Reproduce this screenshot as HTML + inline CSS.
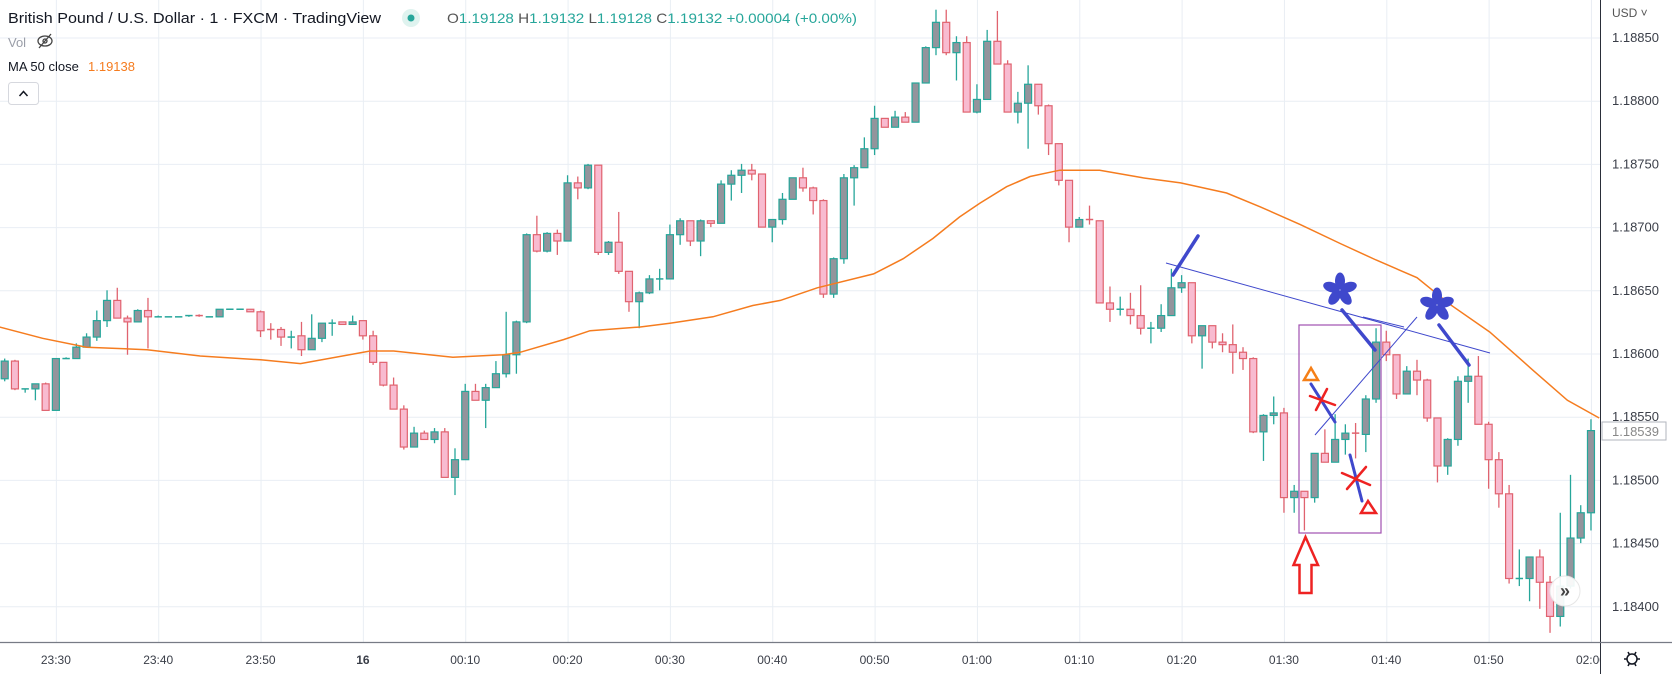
<!DOCTYPE html>
<html><head><meta charset="utf-8"><title>GBPUSD 1m chart</title>
<style>
html,body{margin:0;padding:0;background:#fff;width:1672px;height:674px;overflow:hidden;font-family:"Liberation Sans",sans-serif;}
svg{display:block}
</style></head>
<body>
<svg id="chart" width="1672" height="674" viewBox="0 0 1672 674" xmlns="http://www.w3.org/2000/svg">
  <rect x="0" y="0" width="1672" height="674" fill="#ffffff"/>
  <g id="grid"></g>
  <defs>
    <clipPath id="plotClip"><rect x="0" y="0" width="1600" height="642"/></clipPath>
    <clipPath id="timeClip"><rect x="0" y="642" width="1600" height="32"/></clipPath>
  </defs>
  <g clip-path="url(#plotClip)">
    <g id="candles"></g>
    <polyline id="maLine" fill="none" stroke="#f57c1f" stroke-width="1.5"/>
    <g id="annotations">
      <line x1="1166" y1="263" x2="1490" y2="353" stroke="#3f48cc" stroke-width="1"/>
      <line x1="1363" y1="317" x2="1404" y2="327" stroke="#3f48cc" stroke-width="1"/>
      <line x1="1315" y1="435" x2="1417" y2="317" stroke="#3f48cc" stroke-width="1"/>
      <line x1="1173" y1="275" x2="1198" y2="236" stroke="#3f48cc" stroke-width="3.5" stroke-linecap="round"/>
      <rect x="1299" y="325" width="82" height="208" fill="none" stroke="#a050b0" stroke-width="1.2"/>
      <g transform="translate(1340,290)" fill="#3f48cc">
        <ellipse cx="0" cy="-9" rx="5" ry="8.5"/>
        <ellipse cx="0" cy="-9" rx="5" ry="8.5" transform="rotate(72)"/>
        <ellipse cx="0" cy="-9" rx="5" ry="8.5" transform="rotate(144)"/>
        <ellipse cx="0" cy="-9" rx="5" ry="8.5" transform="rotate(216)"/>
        <ellipse cx="0" cy="-9" rx="5" ry="8.5" transform="rotate(288)"/>
      </g>
      <g transform="translate(1437,305)" fill="#3f48cc">
        <ellipse cx="0" cy="-9" rx="5" ry="8.5"/>
        <ellipse cx="0" cy="-9" rx="5" ry="8.5" transform="rotate(72)"/>
        <ellipse cx="0" cy="-9" rx="5" ry="8.5" transform="rotate(144)"/>
        <ellipse cx="0" cy="-9" rx="5" ry="8.5" transform="rotate(216)"/>
        <ellipse cx="0" cy="-9" rx="5" ry="8.5" transform="rotate(288)"/>
      </g>
      <line x1="1342" y1="310" x2="1375" y2="350" stroke="#3f48cc" stroke-width="3.5" stroke-linecap="round"/>
      <line x1="1439" y1="325" x2="1469" y2="365" stroke="#3f48cc" stroke-width="3.5" stroke-linecap="round"/>
      <polygon points="1311,368 1304,380 1318,380" fill="none" stroke="#f57f17" stroke-width="2.5"/>
      <line x1="1311" y1="384" x2="1335" y2="422" stroke="#3f48cc" stroke-width="3" stroke-linecap="round"/>
      <g stroke="#ee2222" stroke-width="2.5" stroke-linecap="round">
        <line x1="1310" y1="396" x2="1335" y2="405"/><line x1="1327" y1="389" x2="1316" y2="410"/>
      </g>
      <line x1="1350" y1="455" x2="1362" y2="501" stroke="#3f48cc" stroke-width="3" stroke-linecap="round"/>
      <g stroke="#ee2222" stroke-width="2.5" stroke-linecap="round">
        <line x1="1342" y1="473" x2="1370" y2="485"/><line x1="1366" y1="467" x2="1347" y2="489"/>
      </g>
      <polygon points="1368,501 1361,513 1376,513" fill="none" stroke="#ee2222" stroke-width="2.5"/>
      <polygon points="1305.5,537 1293.5,565 1299.5,565 1299.5,593 1311.5,593 1311.5,565 1318,565" fill="none" stroke="#ee2222" stroke-width="2.5" stroke-linejoin="miter"/>
    </g>
  </g>
  <g>
    <text x="8" y="23" font-size="15" fill="#131722" textLength="373" lengthAdjust="spacingAndGlyphs">British Pound / U.S. Dollar · 1 · FXCM · TradingView</text>
    <circle cx="411" cy="18" r="9" fill="#dff3ef"/>
    <circle cx="411" cy="18" r="3.5" fill="#26a69a"/>
    <text x="447" y="23" font-size="14" fill="#26a69a" textLength="410" lengthAdjust="spacingAndGlyphs"><tspan fill="#555">O</tspan>1.19128 <tspan fill="#555">H</tspan>1.19132 <tspan fill="#555">L</tspan>1.19128 <tspan fill="#555">C</tspan>1.19132 +0.00004 (+0.00%)</text>
    <text x="8" y="47" font-size="13" fill="#9a9ea8">Vol</text>
    <g transform="translate(45,41)" stroke="#444" stroke-width="1.3" fill="none">
      <ellipse cx="0" cy="0" rx="7" ry="5"/><circle cx="0" cy="0" r="2"/><line x1="-6" y1="7" x2="6" y2="-7"/>
    </g>
    <text x="8" y="71" font-size="13" fill="#131722">MA 50 close</text>
    <text x="88" y="71" font-size="13" fill="#f57c1f">1.19138</text>
    <rect x="8.5" y="82.5" width="30" height="22" rx="3" fill="#fff" stroke="#d6d8de"/>
    <path d="M19.5 96 L23.5 91.5 L27.5 96" fill="none" stroke="#131722" stroke-width="1.5"/>
  </g>
  <rect x="1600.5" y="0" width="72" height="674" fill="#fff"/>
  <rect x="0" y="642" width="1600" height="32" fill="#fff"/>
  <line x1="1600.5" y1="0" x2="1600.5" y2="674" stroke="#2a2e39" stroke-width="1"/>
  <line x1="0" y1="642.5" x2="1672" y2="642.5" stroke="#777b85" stroke-width="1.2"/>
  <g id="priceAxis"></g>
  <g id="timeAxis" clip-path="url(#timeClip)"></g>
  <text x="1612" y="17" font-size="12" fill="#555">USD ˅</text>
  <g transform="translate(1632,659)" fill="none" stroke="#131722" stroke-width="1.5">
    <circle cx="0" cy="0" r="5"/><line x1="-8" y1="0" x2="-5" y2="0"/><line x1="5" y1="0" x2="8" y2="0"/><line x1="-4" y1="-7" x2="-2.5" y2="-4.3"/><line x1="4" y1="-7" x2="2.5" y2="-4.3"/><line x1="-4" y1="7" x2="-2.5" y2="4.3"/><line x1="4" y1="7" x2="2.5" y2="4.3"/>
  </g>
  <g>
    <rect x="1602" y="422" width="64" height="18" fill="#fff" stroke="#b2b5be"/>
    <text x="1612" y="436" font-size="13" fill="#888">1.18539</text>
  </g>
  <g>
    <circle cx="1565" cy="591" r="15" fill="#ffffff" fill-opacity="0.92" stroke="#e6e6e6"/>
    <text x="1565" y="597" font-size="18" text-anchor="middle" fill="#444" font-weight="bold">»</text>
  </g>
</svg>
<script>
const priceTicks = [1.18850,1.18800,1.18750,1.18700,1.18650,1.18600,1.18550,1.18500,1.18450,1.18400];
const tickLabels = ["23:30","23:40","23:50","16","00:10","00:20","00:30","00:40","00:50","01:00","01:10","01:20","01:30","01:40","01:50","02:00"];
const tickIndex = [5,15,25,35,45,55,65,75,85,95,105,115,125,135,145,155];
const open = [1.18580,1.18594,1.18572,1.18572,1.18576,1.18555,1.18596,1.18596,1.18605,1.18613,1.18626,1.18642,1.18628,1.18625,1.18634,1.18629,1.18629,1.18629,1.18629,1.18630,1.18629,1.18629,1.18635,1.18635,1.18635,1.18633,1.18619,1.18619,1.18613,1.18614,1.18603,1.18612,1.18624,1.18625,1.18623,1.18626,1.18614,1.18593,1.18575,1.18556,1.18526,1.18537,1.18532,1.18538,1.18502,1.18516,1.18570,1.18563,1.18573,1.18584,1.18599,1.18625,1.18694,1.18681,1.18695,1.18689,1.18735,1.18731,1.18749,1.18680,1.18688,1.18665,1.18641,1.18648,1.18659,1.18659,1.18694,1.18705,1.18689,1.18705,1.18703,1.18734,1.18741,1.18745,1.18742,1.18700,1.18706,1.18722,1.18739,1.18731,1.18721,1.18647,1.18675,1.18739,1.18747,1.18762,1.18786,1.18779,1.18787,1.18783,1.18814,1.18842,1.18862,1.18838,1.18846,1.18791,1.18801,1.18847,1.18829,1.18791,1.18798,1.18813,1.18796,1.18766,1.18737,1.18700,1.18706,1.18705,1.18640,1.18635,1.18635,1.18630,1.18620,1.18620,1.18630,1.18652,1.18656,1.18614,1.18622,1.18609,1.18607,1.18601,1.18596,1.18538,1.18551,1.18553,1.18486,1.18491,1.18486,1.18521,1.18514,1.18532,1.18537,1.18536,1.18564,1.18609,1.18599,1.18568,1.18586,1.18579,1.18549,1.18511,1.18532,1.18578,1.18582,1.18544,1.18516,1.18489,1.18422,1.18422,1.18439,1.18419,1.18392,1.18416,1.18454,1.18474];
const high = [1.18596,1.18595,1.18572,1.18576,1.18577,1.18596,1.18597,1.18608,1.18616,1.18634,1.18650,1.18652,1.18630,1.18635,1.18644,1.18630,1.18629,1.18629,1.18630,1.18631,1.18629,1.18635,1.18635,1.18635,1.18635,1.18634,1.18624,1.18621,1.18618,1.18625,1.18631,1.18624,1.18627,1.18625,1.18630,1.18626,1.18618,1.18593,1.18581,1.18559,1.18542,1.18539,1.18541,1.18541,1.18525,1.18576,1.18576,1.18576,1.18594,1.18633,1.18626,1.18695,1.18709,1.18696,1.18698,1.18741,1.18740,1.18750,1.18749,1.18689,1.18712,1.18665,1.18649,1.18662,1.18667,1.18702,1.18707,1.18705,1.18706,1.18705,1.18737,1.18745,1.18750,1.18750,1.18742,1.18706,1.18727,1.18739,1.18747,1.18732,1.18722,1.18676,1.18742,1.18749,1.18771,1.18796,1.18786,1.18792,1.18791,1.18814,1.18843,1.18872,1.18872,1.18851,1.18851,1.18813,1.18856,1.18871,1.18832,1.18807,1.18828,1.18813,1.18797,1.18766,1.18737,1.18708,1.18717,1.18705,1.18653,1.18645,1.18648,1.18654,1.18625,1.18639,1.18667,1.18662,1.18656,1.18622,1.18622,1.18616,1.18623,1.18605,1.18597,1.18552,1.18566,1.18557,1.18496,1.18491,1.18521,1.18540,1.18552,1.18544,1.18545,1.18567,1.18620,1.18618,1.18599,1.18590,1.18595,1.18580,1.18549,1.18533,1.18582,1.18596,1.18598,1.18546,1.18522,1.18496,1.18445,1.18439,1.18445,1.18424,1.18474,1.18504,1.18480,1.18548];
const low = [1.18578,1.18571,1.18569,1.18563,1.18555,1.18555,1.18596,1.18596,1.18605,1.18610,1.18621,1.18628,1.18599,1.18625,1.18604,1.18629,1.18629,1.18629,1.18629,1.18629,1.18629,1.18629,1.18635,1.18635,1.18633,1.18613,1.18611,1.18606,1.18604,1.18598,1.18603,1.18609,1.18614,1.18623,1.18623,1.18611,1.18591,1.18574,1.18556,1.18524,1.18526,1.18532,1.18529,1.18502,1.18488,1.18516,1.18563,1.18541,1.18573,1.18581,1.18584,1.18624,1.18680,1.18680,1.18678,1.18689,1.18722,1.18730,1.18678,1.18678,1.18663,1.18633,1.18620,1.18647,1.18650,1.18659,1.18686,1.18685,1.18677,1.18700,1.18703,1.18721,1.18727,1.18737,1.18700,1.18688,1.18702,1.18722,1.18728,1.18710,1.18644,1.18644,1.18671,1.18717,1.18747,1.18757,1.18779,1.18779,1.18783,1.18783,1.18814,1.18836,1.18836,1.18816,1.18791,1.18790,1.18801,1.18829,1.18791,1.18782,1.18762,1.18789,1.18757,1.18733,1.18688,1.18700,1.18702,1.18640,1.18625,1.18630,1.18623,1.18615,1.18608,1.18617,1.18630,1.18648,1.18608,1.18588,1.18604,1.18601,1.18584,1.18587,1.18537,1.18515,1.18544,1.18474,1.18474,1.18460,1.18482,1.18514,1.18514,1.18520,1.18517,1.18522,1.18561,1.18594,1.18564,1.18568,1.18567,1.18546,1.18498,1.18504,1.18527,1.18561,1.18544,1.18493,1.18478,1.18418,1.18416,1.18404,1.18398,1.18379,1.18384,1.18414,1.18450,1.18460];
const close = [1.18594,1.18572,1.18572,1.18576,1.18555,1.18596,1.18596,1.18605,1.18613,1.18626,1.18642,1.18628,1.18625,1.18634,1.18629,1.18629,1.18629,1.18629,1.18630,1.18629,1.18629,1.18635,1.18635,1.18635,1.18633,1.18618,1.18618,1.18613,1.18613,1.18603,1.18612,1.18624,1.18624,1.18623,1.18625,1.18614,1.18593,1.18575,1.18556,1.18526,1.18537,1.18532,1.18538,1.18502,1.18516,1.18570,1.18563,1.18573,1.18584,1.18599,1.18625,1.18694,1.18681,1.18695,1.18689,1.18735,1.18731,1.18749,1.18680,1.18688,1.18665,1.18641,1.18648,1.18659,1.18659,1.18694,1.18705,1.18689,1.18705,1.18703,1.18734,1.18741,1.18745,1.18742,1.18700,1.18706,1.18722,1.18739,1.18731,1.18721,1.18647,1.18675,1.18739,1.18747,1.18762,1.18786,1.18779,1.18787,1.18783,1.18814,1.18842,1.18862,1.18838,1.18846,1.18791,1.18801,1.18847,1.18829,1.18791,1.18798,1.18813,1.18796,1.18766,1.18737,1.18700,1.18706,1.18705,1.18640,1.18635,1.18635,1.18630,1.18620,1.18620,1.18630,1.18652,1.18656,1.18614,1.18622,1.18609,1.18607,1.18601,1.18596,1.18538,1.18551,1.18553,1.18486,1.18491,1.18486,1.18521,1.18514,1.18532,1.18537,1.18536,1.18564,1.18609,1.18599,1.18568,1.18586,1.18579,1.18549,1.18511,1.18532,1.18578,1.18582,1.18544,1.18516,1.18489,1.18422,1.18422,1.18439,1.18419,1.18392,1.18416,1.18454,1.18474,1.18539];
const maIndex = [-0.5,3.7,8,13.9,19.1,25,28.9,35.7,38,43.8,48.7,50.4,54.6,57.2,62.1,65,69.2,73.1,75.8,79.4,84.9,87.8,90.7,93.3,95.3,97.9,100.2,103.1,107,111.2,114.9,119.4,122.7,126.6,130.5,134,138,141.2,145.1,149.3,152.7,155.8];
const maValues = [1.18621,1.18612,1.18605,1.18603,1.18598,1.18595,1.18592,1.18602,1.18602,1.18597,1.18599,1.18601,1.18611,1.18618,1.18621,1.18624,1.18629,1.18638,1.18642,1.18652,1.18663,1.18675,1.18691,1.18708,1.18719,1.18732,1.18740,1.18745,1.18745,1.18739,1.18735,1.18727,1.18716,1.18702,1.18687,1.18674,1.18660,1.18639,1.18617,1.18587,1.18563,1.18549];

const NS = "http://www.w3.org/2000/svg";
function xScale(i){ return 4.7 + 10.234 * i; }
function yScale(p){ return 290.3 + (1.18650 - p) * 126400; }
function mk(tag, attrs, parent){ const e = document.createElementNS(NS, tag); for (const k in attrs) e.setAttribute(k, attrs[k]); parent.appendChild(e); return e; }

const grid = document.getElementById('grid');
priceTicks.forEach(function(p){
  const l = mk('line', {x1:0, x2:1600, y1:yScale(p)+0.5, y2:yScale(p)+0.5, stroke:'#e9eef4', 'stroke-width':1}, grid);
  
  
});
tickIndex.forEach(function(i){
  const l = mk('line', {x1:xScale(i)+0.5, x2:xScale(i)+0.5, y1:0, y2:642, stroke:'#e9eef4', 'stroke-width':1}, grid);
  
  
});

const cg = document.getElementById('candles');
for (let i = 0; i < open.length; i++){
  const bull = close[i] >= open[i];
  const wickCol = bull ? '#26a69a' : '#e0636f';
  const x = xScale(i);
  const g = mk('g', {}, cg);
  
  
  const w = mk('line', {x1:x, x2:x, y1:yScale(high[i]), y2:yScale(low[i]), stroke:wickCol, 'stroke-width':1.3}, g);
  
  
  const top = yScale(Math.max(open[i], close[i]));
  const bot = yScale(Math.min(open[i], close[i]));
  const h = Math.max(bot - top, 1);
  let b;
  if (bot - top < 1.5){
    b = mk('line', {x1:x-3.7, x2:x+3.7, y1:top, y2:top, stroke:wickCol, 'stroke-width':1.5}, g);
  } else {
    b = mk('rect', {x:x-3.5, y:top, width:7, height:h, fill: bull ? '#93949c' : '#f8bbd0', stroke: bull ? '#26a69a' : '#e0636f', 'stroke-width':1.2}, g);
  }
  
  
}

document.getElementById('maLine').setAttribute('points', maIndex.map(function(i, n){ return xScale(i).toFixed(1) + ',' + yScale(maValues[n]).toFixed(1); }).join(' '));

const pa = document.getElementById('priceAxis');
priceTicks.forEach(function(p){
  const t = mk('text', {x:1612, y:yScale(p)+4.5, 'font-size':13, fill:'#3a3e48'}, pa);
  t.textContent = p.toFixed(5);
  
  
});

const ta = document.getElementById('timeAxis');
tickLabels.forEach(function(lbl, n){
  const t = mk('text', {x:xScale(tickIndex[n]), y:664, 'font-size':12, fill:'#3a3e48', 'text-anchor':'middle'}, ta);
  if (lbl === '16') t.setAttribute('font-weight', 'bold');
  t.textContent = lbl;
  
  
});
</script>
</body></html>
